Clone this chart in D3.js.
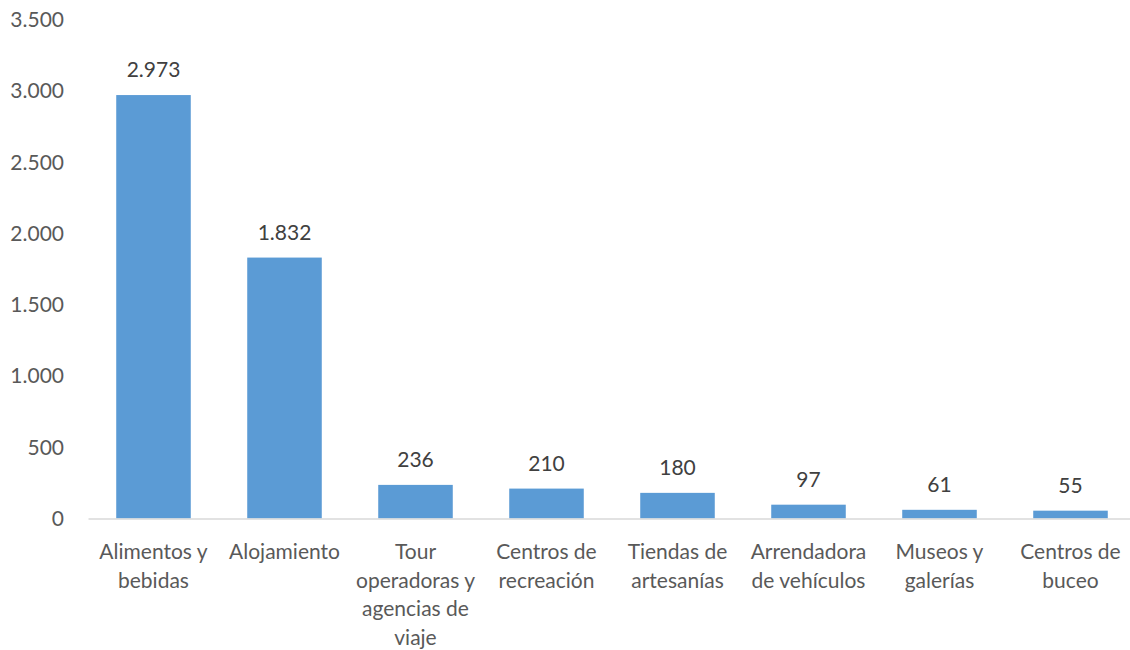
<!DOCTYPE html>
<html><head><meta charset="utf-8">
<script src="https://cdn.jsdelivr.net/npm/d3@7"></script>
<style>body{margin:0;background:#fff}svg{display:block}</style>
</head><body>
<script>
const categories = ["Alimentos y|bebidas","Alojamiento","Tour|operadoras y|agencias de|viaje","Centros de|recreación","Tiendas de|artesanías","Arrendadora|de vehículos","Museos y|galerías","Centros de|buceo"];
const values = [2973,1832,236,210,180,97,61,55];
const yTicks = [0,500,1000,1500,2000,2500,3000,3500];

const W=1130,H=650;
const font='Lato, "Liberation Sans", sans-serif';
const fs=21;
const svg=d3.select("body").append("svg").attr("width",W).attr("height",H);
const x=d3.scaleBand().domain(categories).range([88,1136]).paddingInner(0.431).paddingOuter(0.2155);
const y=d3.scaleLinear().domain([0,3500]).range([518.5,20]);
const fmt=d3.formatLocale({decimal:",",thousands:".",grouping:[3],currency:["",""]}).format(",d");

// y axis labels
const ya=svg.append("g").attr("transform","translate(64,0)")
 .call(d3.axisLeft(y).tickValues(yTicks).tickFormat(fmt).tickSize(0).tickPadding(0));
ya.select(".domain").remove();
ya.selectAll("text").attr("font-family",font).attr("font-size",fs).attr("fill","#595959");

svg.append("g").selectAll("rect").data(values).join("rect")
 .attr("x",(d,i)=>x(categories[i])).attr("width",x.bandwidth())
 .attr("y",d=>y(d)).attr("height",d=>y(0)-y(d)).attr("fill","#5B9BD5");

// x axis line
const xa=svg.append("g").attr("transform",`translate(0,${y(0)})`)
 .call(d3.axisBottom(x).tickSize(0).tickFormat(""));
xa.select(".domain").attr("stroke","#D9D9D9").attr("stroke-width",1.5);
xa.selectAll(".tick text").remove();

// category labels
const cl=svg.append("g");
categories.forEach(c=>{
  const cx=x(c)+x.bandwidth()/2;
  const t=cl.append("text").attr("x",cx).attr("y",559)
   .attr("text-anchor","middle").attr("font-family",font).attr("font-size",fs).attr("fill","#595959");
  c.split("|").forEach((ln,j)=>t.append("tspan").attr("x",cx).attr("dy",j?28.5:0).text(ln));
});

// data labels
svg.append("g").selectAll("text").data(values).join("text")
 .attr("x",(d,i)=>x(categories[i])+x.bandwidth()/2).attr("y",d=>y(d)-18)
 .attr("text-anchor","middle").attr("font-family",font).attr("font-size",fs).attr("fill","#404040")
 .text(d=>fmt(d));
</script>
</body></html>
